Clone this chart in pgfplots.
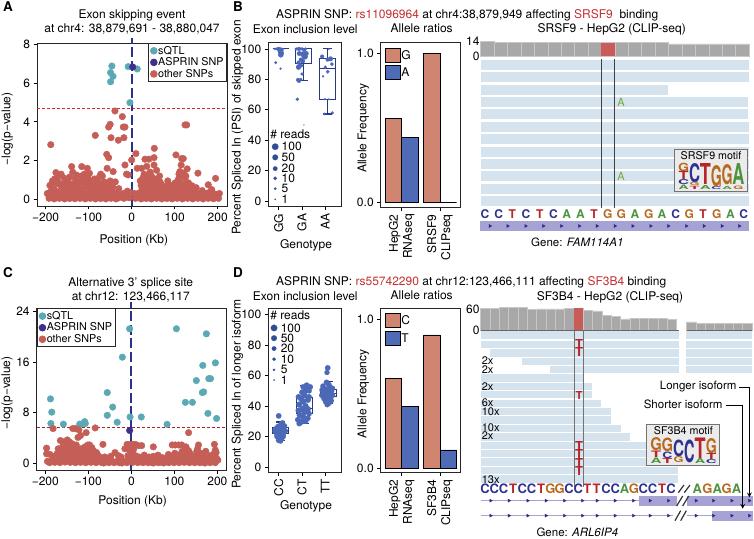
\documentclass[border=0pt]{standalone}
\usepackage{fontspec}
\setmainfont{TeX Gyre Heros}
\usepackage{graphicx}
\usepackage{pgfplots}
\pgfplotsset{compat=1.18}

\definecolor{sqtl}{HTML}{5BA9B4}
\definecolor{asprin}{HTML}{3F2E8C}
\definecolor{other}{HTML}{C65E58}
\definecolor{navyl}{HTML}{27348B}
\definecolor{thr}{HTML}{D8262C}
\definecolor{thrdark}{HTML}{A8232A}
\definecolor{salmon}{HTML}{D08570}
\definecolor{barblue}{HTML}{4F6BB5}
\definecolor{ptblue}{HTML}{4C69B8}
\definecolor{boxnavy}{HTML}{2A3A80}
\definecolor{legblue}{HTML}{2F4E96}
\definecolor{readblue}{HTML}{D5E3EE}
\definecolor{covgray}{HTML}{A8A8A8}
\definecolor{covred}{HTML}{C95B58}
\definecolor{lav}{HTML}{A7A2D4}
\definecolor{chev}{HTML}{2B2A8A}
\definecolor{nucC}{HTML}{2E3192}
\definecolor{nucT}{HTML}{B5262B}
\definecolor{nucA}{HTML}{4C9440}
\definecolor{nucG}{HTML}{B8691F}
\definecolor{rsred}{HTML}{C4302F}
\definecolor{mutgreen}{HTML}{73A93C}

\newcommand\lab{\fontsize{12}{14}\selectfont}
\newcommand\leg{\fontsize{10.8}{12}\selectfont}
\newcommand\readbar[5]{\addplot[#1,line width=#2pt] coordinates {(#3,#5)(#4,#5)};}
\newcommand\nuc[4][12]{\node[inner sep=0pt,text=nuc#4,font=\fontsize{#1}{#1}\selectfont\bfseries] at (axis cs:#2,#3) {#4};}
\newcommand\lgo[6]{\node[inner sep=0pt,text=nuc#6] at (axis cs:#1,#2) {\resizebox{#3pt}{#4pt}{\bfseries #5}};}
% position, lower whisker, lower quartile, median, upper quartile, upper whisker
\newcommand\boxp[6]{%
  \pgfmathsetmacro\xa{#1-0.345}\pgfmathsetmacro\xb{#1+0.345}%
  \pgfmathsetmacro\xc{#1-0.2}\pgfmathsetmacro\xd{#1+0.2}%
  \addplot[boxline] coordinates {(#1,#2)(#1,#3)};
  \addplot[boxline] coordinates {(#1,#5)(#1,#6)};
  \addplot[boxline] coordinates {(\xc,#2)(\xd,#2)};
  \addplot[boxline] coordinates {(\xc,#6)(\xd,#6)};
  \addplot[boxline,fill=white,fill opacity=0.65] coordinates {(\xa,#3)(\xb,#3)(\xb,#5)(\xa,#5)(\xa,#3)};
  \addplot[boxline] coordinates {(\xa,#4)(\xb,#4)};
}

\pgfplotsset{
  boxline/.style={color=boxnavy,line width=1.1pt,mark=none},
  panel/.style={
    scale only axis,
    font=\lab,
    tick label style={font=\lab},
    axis line style={draw=black!85,line width=0.9pt},
    tick align=outside,
    tick pos=left,
    tick style={draw=black,line width=0.8pt},
    major tick length=3.5pt,
    minor tick num=0,
    /pgf/number format/assume math mode=true,
    clip=false,
  },
  xlab at/.style 2 args={every axis x label/.style={at={(axis description cs:#1,#2)},anchor=center,font=\lab}},
  ylab at/.style 2 args={every axis y label/.style={at={(axis description cs:#1,#2)},rotate=90,anchor=center,font=\lab}},
  ttl at/.style 2 args={every axis title/.style={at={(axis description cs:#1,#2)},anchor=center,align=center,font=\lab}},
  dot/.style={only marks,mark=*,mark size=3.3pt,color=#1,mark options={draw=none,fill=#1}},
  sized/.style={only marks,scatter,mark=*,color=#1,
    scatter/use mapped color={draw=#1,fill=#1},
    mark options={line width=0.01pt},
    visualization depends on={\thisrow{s}\as\ptsize},
    scatter/@pre marker code/.append style={/tikz/mark size=\ptsize}},
  dotlegend/.style={
    legend cell align=left,
    legend image code/.code={\draw[mark repeat=1,mark phase=1,##1] plot coordinates {(3pt,0pt)};},
    legend style={font=\leg,draw=black!85,line width=0.9pt,fill=white,inner xsep=2pt,inner ysep=1.4pt,
      row sep=-0.4pt,/tikz/every even column/.append style={column sep=0pt},
      nodes={inner xsep=1pt,inner ysep=1.2pt}},
  },
  swatchimg/.style={legend image code/.code={\draw[draw=black,line width=0.9pt,##1] (0pt,-7pt) rectangle (14.3pt,7pt);}},
  swatchlegend/.style={
    legend cell align=left,
    swatchimg,
    legend style={font=\lab,draw=none,fill=none,row sep=2.6pt,inner sep=0pt,
      nodes={inner xsep=1pt,inner ysep=0pt}},
  },
  cov/.style={
    scale only axis,
    axis line style={draw=none},
    xtick=\empty,
    ymin=0,
    tick style={draw=none},
    tick label style={font=\lab},
    yticklabel style={inner sep=1pt},
    /pgf/number format/assume math mode=true,
    clip=false,
  },
  track/.style={scale only axis,hide axis,clip=false,y dir=reverse},
}
\tikzset{rd/.style={anchor=west,inner sep=0pt,font=\lab}}

\begin{document}
\begin{tikzpicture}[x=1pt,y=1pt]
\path[use as bounding box] (0,0) rectangle (754,538);

% page level text
\begin{axis}[track,at={(0pt,0pt)},anchor=south west,width=754pt,height=538pt,xmin=0,xmax=754,ymin=0,ymax=538]
\node[font=\fontsize{13.5}{14}\selectfont\bfseries] at (axis cs:8,7) {A};
\node[font=\fontsize{13.5}{14}\selectfont\bfseries] at (axis cs:238,7) {B};
\node[font=\fontsize{13.5}{14}\selectfont\bfseries] at (axis cs:8,273) {C};
\node[font=\fontsize{13.5}{14}\selectfont\bfseries] at (axis cs:238,273) {D};
\node[font=\lab,anchor=west,inner sep=0pt] at (axis cs:276,15) {ASPRIN SNP: \textcolor{rsred}{rs11096964} at chr4:38,879,949 affecting \textcolor{rsred}{SRSF9}\ \ binding};
\node[font=\lab] at (axis cs:611.7,29) {SRSF9 - HepG2 (CLIP-seq)};
\node[font=\lab,anchor=west,inner sep=0pt] at (axis cs:276,282.7) {ASPRIN SNP: \textcolor{rsred}{rs55742290} at chr12:123,466,111 affecting \textcolor{rsred}{SF3B4} binding};
\node[font=\lab] at (axis cs:610,297.3) {SF3B4 - HepG2 (CLIP-seq)};
\end{axis}

% A
\begin{axis}[panel,dotlegend,at={(37pt,332pt)},anchor=south west,width=190pt,height=163pt,
  xmin=-220,xmax=221.6,ymin=-0.346,ymax=8.07,
  xtick={-200,-100,0,100,200},xticklabels={−200,−100,0,100,200},ytick={0,2,4,6,8},
  xlabel={Position (Kb)},ylabel={−log(p−value)},
  title={Exon skipping event\\at chr4: 38,879,691 - 38,880,047},
  xlab at={0.51}{-0.209},ylab at={-0.156}{0.472},ttl at={0.5}{1.127},
  legend style={at={(1,1)},anchor=north east}]
\addplot[dot=sqtl] coordinates {(-46,6.88)(-49,6.54)(-43.4,6.35)(-49,6.07)(-8,6.85)(13,6.73)(-4,4.99)};
\addlegendentry{sQTL}
\addplot[dot=asprin] coordinates {(2.5,6.83)};
\addlegendentry{ASPRIN SNP}
\addplot[dot=other] coordinates {
(-38.8,4.56)(-21.7,4.27)(-50,3.87)(-53.5,3.73)(-19.4,3.73)(-15.5,3.73)(124,3.84)(128,3.84)(-84.5,3.3)(-48,3.18)(-18,3.18)(-31,3.05)(-188,2.82)(52.7,2.63)
(-58,2.32)(-53.5,2.15)(10,2.36)(0,2.03)(103,2.29)(116,2.1)(120,2.1)(31,2.07)(40,2.07)(52,2.15)(-15.5,1.77)(115,1.77)(-139.5,1.69)(-116,1.69)(35,1.7)(52,1.77)(58,1.5)
(129,1.57)(112,1.43)(154,1.35)(195,1.08)(-176,1.38)(-164,1.3)(-103,1.6)(-98,1.34)(-57,1.6)(-43,1.43)(-68,1.2)(-12,1.3)(-8,1.26)(13,1.6)(23,1.6)(29,1.3)(43,1.4)(65,1.2)
(-190,0.72)(-184,0.95)(-179,1.05)(-171,0.9)(-165,0.7)(-158,0.82)(-150,1.0)(-143,0.75)(-137,1.4)(-131,1.05)(-124,0.9)(-117,1.2)(-110,1.3)(-104,1.15)(-96,0.85)(-88,0.7)(-79,1.05)(-72,1.3)(-64,0.9)(-50,0.95)(-38,0.9)(-30,0.55)
(20,0.95)(33,1.0)(40,0.8)(48,1.0)(57,0.75)(66,0.9)(74,0.65)(84,0.95)(92,0.7)(101,0.85)(109,1.05)(116,1.25)(124,1.1)(132,0.85)(140,0.7)(150,0.6)(178,0.75)(186,0.5)
(-196,0.3)(-188,0.42)(-181,0.55)(-174,0.4)(-167,0.3)(-160,0.5)(-153,0.38)(-146,0.55)(-139,0.62)(-132,0.45)(-125,0.6)(-118,0.4)(-111,0.55)(-104,0.7)(-97,0.4)(-90,0.52)(-83,0.35)(-76,0.5)(-69,0.6)(-62,0.4)(-55,0.5)(-48,0.42)(-41,0.35)(-34,0.3)(-20,0.3)(-10,0.42)(-3,0.35)(6,0.3)
(15,0.3)(24,0.5)(31,0.6)(38,0.42)(45,0.55)(52,0.35)(60,0.5)(68,0.4)(76,0.3)(84,0.45)(92,0.38)(100,0.55)(108,0.6)(115,0.42)(122,0.55)(129,0.4)(136,0.3)(146,0.35)(156,0.3)(164,0.45)(172,0.3)(180,0.35)(190,0.3)(198,0.25)(204,0.3)
(-192,0.05)(-186,0.1)(-180,0.02)(-174,0.12)(-168,0.05)(-162,0.15)(-156,0.02)(-150,0.1)(-144,0.04)(-138,0.18)(-132,0.03)(-126,0.12)(-120,0.05)(-114,0.16)(-108,0.02)(-102,0.12)(-96,0.05)(-90,0.14)(-84,0.02)(-78,0.1)(-72,0.04)(-66,0.16)(-60,0.02)(-54,0.12)(-48,0.05)(-42,0.1)(-36,0.02)(-30,0.08)(-18,0.05)(-12,0.15)(-6,0.08)
(9,0.05)(16,0.12)(22,0.02)(28,0.14)(34,0.04)(40,0.12)(46,0.02)(52,0.16)(58,0.05)(64,0.12)(70,0.02)(76,0.14)(82,0.04)(88,0.1)(94,0.02)(100,0.16)(106,0.05)(112,0.12)(118,0.02)(124,0.14)(130,0.05)(136,0.1)(142,0.02)(148,0.14)(154,0.05)(160,0.12)(166,0.02)(172,0.14)(178,0.05)(184,0.1)(190,0.03)(196,0.12)(202,0.05)
(-193,0.22)(-184,0.25)(-176,0.2)(-170,0.27)(-163,0.22)(-157,0.28)(-149,0.24)(-142,0.3)(-135,0.25)(-128,0.28)(-121,0.24)(-115,0.3)(-107,0.26)(-100,0.28)(-93,0.24)(-86,0.3)(-80,0.22)(-73,0.28)(-65,0.25)(-58,0.27)(-51,0.25)(-44,0.24)(-26,0.2)(-13,0.25)(12,0.22)(19,0.25)(26,0.28)(33,0.3)(41,0.26)(49,0.28)(56,0.25)(64,0.28)(72,0.22)(80,0.26)(88,0.24)(96,0.28)(104,0.3)(111,0.26)(119,0.28)(126,0.26)(133,0.22)(140,0.25)(151,0.2)(160,0.25)(168,0.22)(176,0.24)(185,0.2)(194,0.25)(201,0.22)
(-186,0.72)(-175,0.8)(-162,0.62)(-153,0.72)(-146,0.85)(-134,0.8)(-127,0.72)(-120,0.82)(-113,0.9)(-107,0.85)(-100,0.65)(-92,0.62)(-84,0.72)(-75,0.8)(-67,0.72)(-59,0.75)(-52,0.7)(-44,0.65)(22,0.72)(28,0.8)(36,0.78)(44,0.7)(52,0.72)(60,0.7)(70,0.75)(79,0.65)(88,0.72)(97,0.6)(105,0.78)(113,0.85)(120,0.75)(127,0.8)(136,0.55)
(-172,1.15)(-157,1.1)(-144,1.15)(-128,1.25)(-112,1.05)(-100,1.05)(-86,1.05)(-75,1.15)(26,1.1)(38,1.15)(46,1.2)(54,1.05)(110,1.3)(121,1.35)(126,1.2)
};
\addlegendentry{other SNPs}
\addplot[color=thr,densely dashed,line width=0.9pt,forget plot] coordinates {(-220,4.7)(221.6,4.7)};
\addplot[color=navyl,dash pattern=on 10pt off 3.5pt,line width=2pt,forget plot] coordinates {(0,-0.346)(0,8.32)};
\end{axis}

% C
\begin{axis}[panel,dotlegend,at={(36.7pt,68pt)},anchor=south west,width=190pt,height=161.7pt,
  xmin=-220,xmax=221.6,ymin=-1.06,ymax=24.54,
  xtick={-200,-100,0,100,200},xticklabels={−200,−100,0,100,200},ytick={0,8,16,24},
  xlabel={Position (Kb)},ylabel={−log(p−value)},
  title={Alternative 3’ splice site\\at chr12: 123,466,117},
  xlab at={0.505}{-0.196},ylab at={-0.156}{0.476},ttl at={0.495}{1.115},
  legend style={at={(0,1)},anchor=north west}]
\addplot[dot=sqtl] coordinates {(-4,21.3)(104.7,21.3)(174.4,20.5)(-21,16.8)(195.3,15.9)(166,15.5)(151,13.1)(180,13.4)(184,13.4)(-56,11.2)(168,11.3)(165,11.2)(-188,10.2)(125.6,9.65)(142,9.65)(-43.4,8.9)(-185,8.1)(178,7.9)(-56,7.6)(-3,7.33)(23,7.33)(198,7.1)(-33,6.5)(-108.5,6.6)(-187,6.3)(-158,6.2)(-120,6.2)(-112,6.3)(-107,6.3)(83,6.17)};
\addlegendentry{sQTL}
\addplot[dot=asprin] coordinates {(-4,5.2)};
\addlegendentry{ASPRIN SNP}
\addplot[dot=other] coordinates {
(-182,5.5)(-136,5.5)(-130,5.5)(-122,5.3)(-105,4.85)(-84,5.6)(133,4.85)(-118,4.4)(-124,4.1)(-165,3.6)(-157,3.4)(-149,3.7)(-144,3.4)(-138,3.1)(-128,2.9)(-108,2.6)(-101,2.9)(-97,2.9)(-92,2.5)(-66,3.0)(-170,2.3)(-160,2.6)(-150,2.9)(-145,2.5)(-140,2.7)(-134,2.2)
(-197,2.4)(-197,1.5)(-189,1.4)(-181,1.0)(-173,1.5)(-166,1.9)(-158,1.2)(-152,1.6)(-146,2.0)(-139,1.5)(-132,1.7)(-126,1.3)(-120,1.6)(-113,1.1)(-106,1.4)(-98,1.7)(-92,1.3)(-85,1.0)(-78,1.3)(-70,0.9)(-62,1.0)(-38,1.7)(-30,1.2)(-15,2.3)(-10,3.0)(-3,3.0)(3,3.0)(9,3.0)(16,2.8)(24,2.8)(-6,2.2)(5,2.2)(2,1.5)(-2,1.0)(10,1.2)(18,1.0)
(51,2.6)(30,1.3)(41,1.0)(51,1.1)(62,1.3)(72,0.9)(86,1.4)(94,1.1)(101,1.6)(110,1.3)(118,1.9)(95,2.9)(102,2.9)(110,2.9)(117,2.9)(127,2.6)(130,2.0)(137,1.5)(145,1.1)(152,1.9)(156,2.9)(154,2.3)(161,1.6)(168,1.2)(173,1.9)(183,1.2)(192,1.5)(193,3.0)(195,2.1)(197,1.7)
(-195,0.3)(-190,0.1)(-184,0.5)(-178,0.15)(-172,0.4)(-166,0.1)(-160,0.5)(-154,0.2)(-148,0.6)(-142,0.15)(-136,0.5)(-130,0.1)(-124,0.6)(-118,0.15)(-112,0.5)(-106,0.1)(-100,0.4)(-94,0.15)(-88,0.5)(-82,0.1)(-76,0.4)(-70,0.15)(-64,0.05)(-58,0.3)(-52,0.1)(-46,0.4)(-40,0.1)(-34,0.3)(-28,0.1)(-22,0.05)(-16,0.3)(-10,0.1)(-4,0.5)(3,0.15)(9,0.4)(15,0.1)(21,0.3)(27,0.1)(33,0.3)(39,0.1)(45,0.2)(51,0.05)(57,0.3)(63,0.1)(69,0.2)(75,0.05)(81,0.3)(87,0.1)(93,0.4)(99,0.1)(105,0.5)(111,0.1)(117,0.5)(123,0.15)(129,0.4)(135,0.1)(141,0.3)(147,0.1)(153,0.4)(159,0.1)(165,0.2)(171,0.05)(177,0.3)(183,0.1)(189,0.3)(195,0.1)(201,0.5)
(-150,1.0)(-144,1.0)(-136,0.9)(-128,0.8)(-120,0.9)(-110,0.8)(-100,0.8)(-90,0.9)(112,0.9)(123,0.9)(133,1.0)
(-175,0.7)(-163,0.8)(-155,2.0)(-148,1.5)(-142,2.1)(-136,1.6)(-129,2.2)(-123,2.0)(-117,2.3)(-111,2.0)(-104,2.2)(-95,2.2)(-88,2.0)(-81,1.7)(-74,0.7)(-56,0.8)(-48,1.1)(-24,1.0)(-8,1.2)(6,0.9)(14,0.6)(25,0.7)(36,0.6)(47,0.6)(60,0.6)(78,0.7)(90,0.6)(99,1.0)(106,1.0)(116,1.2)(124,1.4)(133,2.0)(141,0.8)(149,1.0)(158,0.9)(176,0.8)(187,0.8)(198,0.8)
};
\addlegendentry{other SNPs}
\addplot[color=thrdark,densely dashed,line width=0.9pt,forget plot] coordinates {(-220,5.7)(221.6,5.7)};
\addplot[color=navyl,dash pattern=on 10pt off 3.5pt,line width=2.2pt,forget plot] coordinates {(0,-1.06)(0,25.5)};
\end{axis}

% B inclusion level
\begin{axis}[panel,at={(268.3pt,331.3pt)},anchor=south west,width=72.7pt,height=164pt,
  xmin=0.554,xmax=3.67,ymin=-3.75,ymax=104.1,
  xtick={1,2,3},xticklabels={GG,GA,AA},ytick={0,20,40,60,80,100},
  xticklabel style={rotate=90,anchor=east},
  xlabel={Genotype},ylabel={Percent Spliced In (PSI) of skipped exon},
  title={Exon inclusion level},
  xlab at={0.519}{-0.234},ylab at={-0.426}{0.483},ttl at={0.509}{1.083}]
\addplot[sized=ptblue] table[row sep=\\] {x y s\\
0.82 100 1\\ 0.88 100 1.3\\ 0.93 100 1.6\\ 1.0 100 2\\ 1.06 100 1.8\\ 1.12 100 1.4\\ 1.18 100 1\\ 1.08 99 2.2\\ 1.13 99 1.8\\ 1.02 98.5 1.5\\ 1.09 97.5 2.8\\ 1.13 97 2.2\\ 1.09 96 2.5\\ 1.03 96 1.2\\ 0.87 91 1.5\\ 1.08 87 1.2\\
1.75 100 1.6\\ 1.87 100 2\\ 2.0 100 1.8\\ 2.15 100 1.6\\ 1.88 97 2.4\\ 2.1 99 1.8\\ 2.18 97 2.4\\ 2.06 96.5 3\\ 2.12 95 3\\ 1.95 93 2\\ 2.03 92 2.2\\ 1.85 91 2\\ 2.0 89 1.5\\ 1.85 88 2.6\\ 1.92 89 2\\ 2.0 83.5 1.7\\ 1.83 79.6 2\\ 1.87 79 2\\ 1.95 80 1.5\\ 1.8 66.9 1.7\\ 2.08 50 0.6\\
2.86 95 2\\ 3.1 93 2\\ 3.22 93.5 2.4\\ 3.28 90 1.8\\ 3.0 88 1.7\\ 3.1 85 1.8\\ 2.9 82 1.2\\ 2.98 67 1.2\\ 3.15 66.9 1\\ 2.95 57.2 1.4\\ 3.3 58 1.6\\ 3.15 100 1\\
};
\boxp{1.08}{100}{100}{100}{100}{100}
\boxp{2.05}{79.5}{90.6}{100}{100}{100}
\boxp{3.08}{57.2}{66.9}{87.3}{93.6}{100}
\addplot[sized=legblue] table[row sep=\\] {x y s\\ 0.85 35.7 3.3\\ 0.85 28.7 2.9\\ 0.85 21.3 2.3\\ 0.85 14.9 1.8\\ 0.85 8.1 1.3\\ 0.85 1.1 0.8\\};
\node[rd] at (axis cs:0.63,43.9) {\# reads};
\node[rd] at (axis cs:1.12,35.7) {100};
\node[rd] at (axis cs:1.12,28.7) {50};
\node[rd] at (axis cs:1.12,21.3) {20};
\node[rd] at (axis cs:1.12,14.9) {10};
\node[rd] at (axis cs:1.12,8.1) {5};
\node[rd] at (axis cs:1.12,1.1) {1};
\end{axis}

% B allele ratios
\begin{axis}[panel,at={(380.7pt,330.7pt)},anchor=south west,width=79.3pt,height=164.6pt,
  ybar=0pt,bar width=16.5pt,swatchlegend,
  xmin=0.452,xmax=2.522,ymin=-0.0336,ymax=1.071,
  xtick={1,2},xticklabels={HepG2\\RNAseq,SRSF9\\CLIPseq},ytick={0,1},yticklabels={0.0,1.0},
  xticklabel style={rotate=90,anchor=east,align=right},
  xlabel={},ylabel={Allele Frequency},title={Allele ratios},
  ylab at={-0.22}{0.48},ttl at={0.517}{1.085},
  legend style={at={(0.055,0.97)},anchor=north west}]
\addplot[fill=salmon,draw=black,line width=0.9pt,swatchimg] coordinates {(1,0.564)(2,1.0)};
\addlegendentry{G}
\addplot[fill=barblue,draw=black,line width=0.9pt,swatchimg] coordinates {(1,0.434)(2,0)};
\addlegendentry{A}
\end{axis}

% D inclusion level
\begin{axis}[panel,at={(268.3pt,65.7pt)},anchor=south west,width=72.7pt,height=164pt,
  xmin=0.554,xmax=3.67,ymin=-3.5,ymax=104.1,
  xtick={1,2,3},xticklabels={CC,CT,TT},ytick={0,20,40,60,80,100},
  xticklabel style={rotate=90,anchor=east},
  xlabel={Genotype},ylabel={Percent Spliced In of longer isoform},
  title={Exon inclusion level},
  xlab at={0.519}{-0.21},ylab at={-0.426}{0.477},ttl at={0.509}{1.075}]
\addplot[sized=ptblue] table[row sep=\\] {x y s\\
1.0 33.5 2.8\\ 1.16 29 2.6\\ 1.1 28 2.8\\ 1.25 27 2.6\\ 0.97 26.5 2.8\\ 1.1 26 3\\ 0.88 25 2.8\\ 1.2 25 3\\ 1.03 24 3\\ 0.85 23.5 2.8\\ 1.28 23.5 2.8\\ 1.1 23 3\\ 0.92 22 3\\ 1.2 22 2.8\\ 1.05 21 3\\ 0.93 20 2.8\\ 1.2 20 2.6\\ 1.03 19 3\\ 1.12 18.5 2.8\\ 1.0 17.5 2.8\\ 1.08 17 2.6\\
1.92 29 2.8\\ 1.88 28.5 2.8\\ 2.0 30 3\\ 2.15 30 2.8\\ 1.82 31 2.8\\ 2.25 32 2.8\\ 2.05 33 3\\ 1.9 34 3\\ 2.3 35 2.8\\ 2.1 36 3\\ 2.0 38 3\\ 1.85 37 3\\ 2.25 38 3\\ 2.15 40 3\\ 1.88 41 3\\ 2.05 43 3\\ 2.25 44 3\\ 1.95 45 3\\ 1.85 46 2.8\\ 2.1 47 3\\ 2.3 46 2.8\\ 2.0 49 2.8\\ 2.15 50 3\\ 2.25 51 2.8\\ 2.05 52.5 2.8\\ 2.2 53.5 3\\ 2.35 52.5 2.8\\ 2.3 50 2.8\\
3.1 65 2.8\\ 3.07 62 2.6\\ 3.05 55.5 2.8\\ 3.15 54 2.8\\ 2.9 53 2.8\\ 3.2 52 3\\ 3.3 51.5 2.8\\ 3.0 51 3\\ 2.86 50.5 2.8\\ 3.1 50 3\\ 3.25 49.5 3\\ 2.93 48 3\\ 3.15 47 3\\ 3.3 47 2.8\\ 2.85 47 2.8\\ 3.05 46 3\\ 3.2 45 3\\ 2.95 45 3\\ 3.1 44 3\\ 3.25 43.5 2.8\\ 3.02 43 3\\ 3.15 42 3\\ 3.08 41 2.8\\
};
\boxp{1.07}{17.5}{21.7}{23.6}{25.6}{29.5}
\boxp{2.1}{28.4}{35}{38.3}{45.7}{53.6}
\boxp{3.13}{41.6}{46.2}{48.1}{51}{55.8}
\addplot[sized=legblue] table[row sep=\\] {x y s\\ 0.8 91.2 3.3\\ 0.8 84.5 2.9\\ 0.8 77.7 2.3\\ 0.8 70.7 1.8\\ 0.8 63.7 1.3\\ 0.8 57 0.8\\};
\node[rd] at (axis cs:0.63,99.6) {\# reads};
\node[rd] at (axis cs:1.08,91.2) {100};
\node[rd] at (axis cs:1.08,84.5) {50};
\node[rd] at (axis cs:1.08,77.7) {20};
\node[rd] at (axis cs:1.08,70.7) {10};
\node[rd] at (axis cs:1.08,63.7) {5};
\node[rd] at (axis cs:1.08,57) {1};
\end{axis}

% D allele ratios
\begin{axis}[panel,at={(380.7pt,65.3pt)},anchor=south west,width=79.3pt,height=164.4pt,
  ybar=0pt,bar width=16.5pt,swatchlegend,
  xmin=0.452,xmax=2.522,ymin=-0.0295,ymax=1.074,
  xtick={1,2},xticklabels={HepG2\\RNAseq,SF3B4\\CLIPseq},ytick={0,1},yticklabels={0.0,1.0},
  xticklabel style={rotate=90,anchor=east,align=right},
  xlabel={},ylabel={Allele Frequency},title={Allele ratios},
  ylab at={-0.22}{0.48},ttl at={0.517}{1.08},
  legend style={at={(0.055,0.97)},anchor=north west}]
\addplot[fill=salmon,draw=black,line width=0.9pt,swatchimg] coordinates {(1,0.604)(2,0.895)};
\addlegendentry{C}
\addplot[fill=barblue,draw=black,line width=0.9pt,swatchimg] coordinates {(1,0.414)(2,0.123)};
\addlegendentry{T}
\end{axis}

% coverage, SRSF9
\begin{axis}[cov,at={(480.67pt,482pt)},anchor=south west,width=268.3pt,height=14.5pt,xmin=0,xmax=20,ymax=14,ytick={0,14}]
\addplot[ybar interval,fill=covgray,draw=black!22] coordinates {(0,14)(1,13)(2,13)(3,13)(4,13)(5,13)(6,13)(7,13)(8,13)(9,13)(10,13)(11,13)(12,13)(13,13)(14,11.7)(15,11.7)(16,11.7)(17,11.7)(18,11.7)(19,11.7)(20,11.7)};
\addplot[ybar interval,fill=covred,draw=none] coordinates {(9,13)(10,13)};
\end{axis}

% coverage, SF3B4
\begin{axis}[cov,at={(480.67pt,207.33pt)},anchor=south west,width=198.67pt,height=21.33pt,xmin=0,xmax=21.29,ymax=60,ytick={0,60}]
\addplot[ybar interval,fill=covgray,draw=black!22] coordinates {(0,62)(1,62)(2,65)(3,65)(4,65)(5,59)(6,61)(7,61)(8,61)(9,63)(10,63)(11,58)(12,56)(13,44)(14,41)(15,33)(16,35)(17,35)(18,35)(19,35)(20,32)(21,32)};
\addplot[ybar interval,fill=covred,draw=none] coordinates {(10,63)(11,63)};
\addplot[black!60,line width=1pt] coordinates {(0,0)(21.29,0)};
\end{axis}
\begin{axis}[cov,at={(686.67pt,207.33pt)},anchor=south west,width=65.67pt,height=21.33pt,xmin=0,xmax=7.04,ymax=60,ytick=\empty]
\addplot[ybar interval,fill=covgray,draw=black!22] coordinates {(0,25)(1,21)(2,21)(3,21)(4,21)(5,21)(6,21)(7,21)};
\addplot[black!60,line width=1pt] coordinates {(0,0)(7.04,0)};
\end{axis}

% track SRSF9, in 3x pixels of its region
\begin{axis}[track,at={(460pt,268pt)},anchor=south west,width=294pt,height=270pt,xmin=0,xmax=882,ymin=0,ymax=810]
\readbar{readblue}{10.3}{62}{867}{195}
\readbar{readblue}{10.3}{62}{867}{232}
\readbar{readblue}{10.3}{62}{625}{269}
\readbar{readblue}{10.3}{62}{864}{306}
\readbar{readblue}{10.3}{62}{864}{343}
\readbar{readblue}{10.3}{62}{867}{381}
\readbar{readblue}{10.3}{62}{867}{418}
\readbar{readblue}{10.3}{62}{867}{455}
\readbar{readblue}{10.3}{62}{867}{492}
\readbar{readblue}{10.3}{62}{867}{529}
\readbar{readblue}{10.3}{62}{867}{566}
\readbar{readblue}{10.3}{62}{867}{604}
\addplot[black!75,line width=0.8pt] coordinates {(425,178)(425,625)};
\addplot[black!75,line width=0.8pt] coordinates {(464,178)(464,625)};
\node[text=mutgreen,font=\fontsize{11}{11}\selectfont] at (axis cs:483,308) {A};
\node[text=mutgreen,font=\fontsize{11}{11}\selectfont] at (axis cs:483,530) {A};
\nuc{75}{643}{C}\nuc{116}{643}{C}\nuc{157}{643}{T}\nuc{198}{643}{C}\nuc{239}{643}{T}\nuc{280}{643}{C}\nuc{320}{643}{A}\nuc{361}{643}{A}\nuc{402}{643}{T}\nuc{443}{643}{G}\nuc{484}{643}{G}\nuc{525}{643}{A}\nuc{566}{643}{G}\nuc{606}{643}{A}\nuc{647}{643}{C}\nuc{688}{643}{G}\nuc{729}{643}{T}\nuc{770}{643}{G}\nuc{811}{643}{A}\nuc{851}{643}{C}
\readbar{lav}{9.7}{60}{867}{678}
\addplot[only marks,mark=triangle*,mark size=1.7pt,color=chev,mark options={rotate=-90,draw=none,fill=chev}] coordinates {(90,678)(143,678)(197,678)(250,678)(304,678)(358,678)(411,678)(465,678)(518,678)(572,678)(625,678)(679,678)(732,678)(786,678)(838,678)};
\node[font=\fontsize{11.5}{12}\selectfont] at (axis cs:352,727) {Gene: \textit{FAM114A1}};
\filldraw[draw=black!55,fill=white!92!black,line width=0.8pt] (axis cs:643,448) rectangle (axis cs:863,575);
\node[font=\fontsize{10.7}{11}\selectfont] at (axis cs:753,466) {SRSF9 motif};
\lgo{671}{502}{11}{8.3}{G}{G}\lgo{671}{527}{10}{8.3}{T}{T}\lgo{671}{547}{11}{5}{C}{C}\lgo{671}{562}{10}{4.5}{A}{A}
\lgo{704}{519}{11}{19}{C}{C}\lgo{704}{553}{10}{3.2}{G}{G}\lgo{704}{564}{10}{3.2}{T}{T}
\lgo{736}{522}{11}{21}{T}{T}\lgo{736}{562}{11}{4}{A}{A}
\lgo{769}{527}{11}{21}{G}{G}\lgo{769}{564}{10}{3}{C}{C}
\lgo{801}{525}{11}{20}{G}{G}\lgo{801}{563}{10}{3}{A}{A}
\lgo{835}{522}{12}{21}{A}{A}\lgo{835}{562}{10}{3.5}{G}{G}
\end{axis}

% track SF3B4
\begin{axis}[track,at={(460pt,0pt)},anchor=south west,width=294pt,height=268pt,xmin=0,xmax=882,ymin=0,ymax=804]
\readbar{readblue}{7.3}{64}{658}{195}
\readbar{readblue}{7.3}{64}{658}{224}
\readbar{readblue}{7.3}{90}{658}{249}
\readbar{readblue}{7.3}{186}{658}{274}
\readbar{readblue}{7.3}{270}{658}{299}
\readbar{readblue}{7.3}{62}{370}{324}
\readbar{readblue}{7.3}{64}{395}{349}
\readbar{readblue}{7.3}{64}{395}{374}
\readbar{readblue}{7.3}{64}{422}{400}
\readbar{readblue}{7.3}{64}{453}{424}
\readbar{readblue}{7.3}{64}{453}{450}
\readbar{readblue}{7.3}{64}{483}{476}
\readbar{readblue}{7.3}{64}{511}{501}
\readbar{readblue}{7.3}{64}{654}{527}
\readbar{readblue}{7.3}{64}{654}{551}
\readbar{readblue}{7.3}{64}{654}{576}
\readbar{readblue}{7.3}{64}{654}{601}
\readbar{readblue}{7.3}{64}{654}{627}
\readbar{readblue}{7.3}{678}{877}{195}
\readbar{readblue}{7.3}{678}{877}{224}
\readbar{readblue}{7.3}{678}{877}{249}
\readbar{readblue}{7.3}{678}{877}{274}
\readbar{readblue}{7.3}{678}{877}{299}
\addplot[color=black!55,line width=0.8pt] coordinates {(342,182)(342,650)};
\addplot[color=black!55,line width=0.8pt] coordinates {(370,182)(370,650)};
\node[inner sep=0pt,text=nucT,font=\bfseries] at (axis cs:357,222) {\resizebox{8pt}{9pt}{T}};
\node[inner sep=0pt,text=nucT,font=\bfseries] at (axis cs:357,247) {\resizebox{8pt}{9pt}{T}};
\node[inner sep=0pt,text=nucT,font=\bfseries] at (axis cs:357,376) {\resizebox{7pt}{8pt}{T}};
\node[inner sep=0pt,text=nucT,font=\bfseries] at (axis cs:357,527) {\resizebox{8pt}{9pt}{T}};
\node[inner sep=0pt,text=nucT,font=\bfseries] at (axis cs:357,553) {\resizebox{8pt}{9pt}{T}};
\node[inner sep=0pt,text=nucT,font=\bfseries] at (axis cs:357,578) {\resizebox{8pt}{9pt}{T}};
\node[inner sep=0pt,text=nucT,font=\bfseries] at (axis cs:357,603) {\resizebox{8pt}{9pt}{T}};
\node[anchor=west,inner sep=0pt,font=\fontsize{11}{11}\selectfont] at (axis cs:65,273) {2x};
\node[anchor=west,inner sep=0pt,font=\fontsize{11}{11}\selectfont] at (axis cs:65,298) {2x};
\node[anchor=west,inner sep=0pt,font=\fontsize{11}{11}\selectfont] at (axis cs:65,349) {2x};
\node[anchor=west,inner sep=0pt,font=\fontsize{11}{11}\selectfont] at (axis cs:65,398) {6x};
\node[anchor=west,inner sep=0pt,font=\fontsize{11}{11}\selectfont] at (axis cs:65,424) {10x};
\node[anchor=west,inner sep=0pt,font=\fontsize{11}{11}\selectfont] at (axis cs:65,474) {10x};
\node[anchor=west,inner sep=0pt,font=\fontsize{11}{11}\selectfont] at (axis cs:65,498) {2x};
\node[anchor=west,inner sep=0pt,font=\fontsize{11}{11}\selectfont] at (axis cs:65,628) {13x};
\nuc[13]{75}{655}{C}\nuc[13]{103}{655}{C}\nuc[13]{131}{655}{C}\nuc[13]{159}{655}{T}\nuc[13]{187}{655}{C}\nuc[13]{215}{655}{C}\nuc[13]{243}{655}{T}\nuc[13]{271}{655}{G}\nuc[13]{299}{655}{G}\nuc[13]{327}{655}{C}\nuc[13]{355}{655}{C}\nuc[13]{382}{655}{T}\nuc[13]{410}{655}{T}\nuc[13]{438}{655}{C}\nuc[13]{466}{655}{C}\nuc[13]{494}{655}{A}\nuc[13]{522}{655}{G}\nuc[13]{550}{655}{C}\nuc[13]{578}{655}{C}\nuc[13]{606}{655}{T}\nuc[13]{633}{655}{C}
\nuc[13]{712}{655}{A}\nuc[13]{742}{655}{G}\nuc[13]{772}{655}{A}\nuc[13]{800}{655}{G}\nuc[13]{830}{655}{A}
\addplot[black!80,line width=1.2pt] coordinates {(655,668)(672,645)};
\addplot[black!80,line width=1.2pt] coordinates {(673,668)(690,645)};
% gene models
\readbar{lav}{1.3}{64}{645}{692}
\readbar{lav}{10}{537}{650}{692}
\readbar{lav}{10}{682}{880}{692}
\addplot[black!80,line width=1.2pt] coordinates {(650,708)(668,678)};
\addplot[black!80,line width=1.2pt] coordinates {(668,708)(686,678)};
\readbar{lav}{1.3}{64}{640}{737}
\readbar{lav}{1.3}{680}{755}{737}
\readbar{lav}{10}{755}{880}{737}
\addplot[black!80,line width=1.2pt] coordinates {(645,752)(662,722)};
\addplot[black!80,line width=1.2pt] coordinates {(662,752)(679,722)};
\addplot[only marks,mark=triangle*,mark size=1.7pt,color=chev,mark options={rotate=-90,draw=none,fill=chev}] coordinates {(92,692)(147,692)(203,692)(258,692)(313,692)(367,692)(411,692)(465,692)(520,692)(570,692)(625,692)(708,692)(760,692)(815,692)(868,692)
(92,737)(147,737)(203,737)(258,737)(313,737)(367,737)(411,737)(465,737)(520,737)(570,737)(625,737)(708,737)(760,737)(815,737)(868,737)};
\node[font=\fontsize{11.5}{12}\selectfont] at (axis cs:352,788) {Gene: \textit{ARL6IP4}};
\node[anchor=east,inner sep=0pt,font=\fontsize{11.5}{12}\selectfont] at (axis cs:830,350) {Longer isoform};
\node[anchor=east,inner sep=0pt,font=\fontsize{11.5}{12}\selectfont] at (axis cs:788,404) {Shorter isoform};
\draw[-stealth,black,line width=1.1pt] (axis cs:838,352)--(axis cs:868,352)--(axis cs:868,682);
\draw[-stealth,black,line width=1.1pt] (axis cs:797,406)--(axis cs:848,406)--(axis cs:848,716);
\filldraw[draw=black!55,fill=white!92!black,line width=0.8pt] (axis cs:560,462) rectangle (axis cs:778,587);
\node[font=\fontsize{10.7}{11}\selectfont] at (axis cs:670,482) {SF3B4 motif};
\lgo{588}{522}{11.5}{13}{G}{G}\lgo{588}{552}{10}{6.5}{T}{T}\lgo{588}{571}{11}{5.5}{A}{A}
\lgo{622}{524}{11.5}{13.5}{G}{G}\lgo{622}{555}{10}{6.5}{C}{C}\lgo{622}{572}{10}{5}{T}{T}
\lgo{656}{535}{11}{16.5}{C}{C}\lgo{656}{570}{10}{6}{G}{G}
\lgo{688}{544}{10.5}{22.5}{C}{C}
\lgo{720}{534}{11}{20.5}{T}{T}\lgo{720}{572}{10.5}{5}{A}{A}
\lgo{754}{527}{11}{15}{G}{G}\lgo{754}{559}{10}{6}{T}{T}\lgo{754}{574}{11}{4}{C}{C}
\end{axis}
\end{tikzpicture}
\end{document}
